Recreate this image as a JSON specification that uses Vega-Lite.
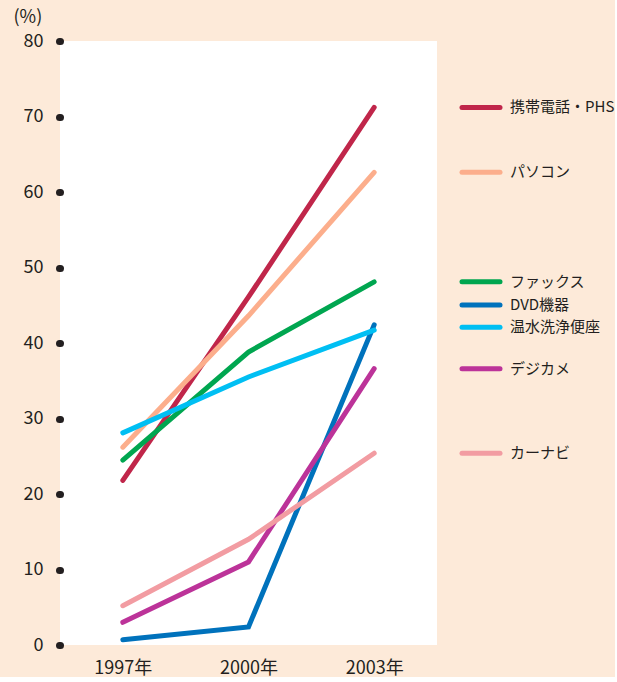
{
  "$schema": "https://vega.github.io/schema/vega-lite/v6.json",
  "background": "#fdead9",
  "padding": {"left": 13, "top": 8, "right": 0, "bottom": 0},
  "autosize": {"type": "pad"},
  "spacing": 0,
  "config": {"font": "Noto Sans CJK JP", "view": {"stroke": null}},
  "data": {"values": [
    {"item": "携帯電話・PHS", "year": "1997年", "value": 21.8},
    {"item": "携帯電話・PHS", "year": "2000年", "value": 46.1},
    {"item": "携帯電話・PHS", "year": "2003年", "value": 71.2},
    {"item": "パソコン", "year": "1997年", "value": 26.2},
    {"item": "パソコン", "year": "2000年", "value": 43.6},
    {"item": "パソコン", "year": "2003年", "value": 62.6},
    {"item": "ファックス", "year": "1997年", "value": 24.5},
    {"item": "ファックス", "year": "2000年", "value": 38.8},
    {"item": "ファックス", "year": "2003年", "value": 48.1},
    {"item": "DVD機器", "year": "1997年", "value": 0.7},
    {"item": "DVD機器", "year": "2000年", "value": 2.4},
    {"item": "DVD機器", "year": "2003年", "value": 42.4},
    {"item": "温水洗浄便座", "year": "1997年", "value": 28.1},
    {"item": "温水洗浄便座", "year": "2000年", "value": 35.5},
    {"item": "温水洗浄便座", "year": "2003年", "value": 41.7},
    {"item": "デジカメ", "year": "1997年", "value": 3.0},
    {"item": "デジカメ", "year": "2000年", "value": 11.0},
    {"item": "デジカメ", "year": "2003年", "value": 36.6},
    {"item": "カーナビ", "year": "1997年", "value": 5.2},
    {"item": "カーナビ", "year": "2000年", "value": 14.0},
    {"item": "カーナビ", "year": "2003年", "value": 25.4}
  ]},
  "hconcat": [
    {
      "width": 377,
      "height": 604,
      "view": {"fill": "white", "stroke": null},
      "mark": {"type": "line", "strokeWidth": 5, "strokeCap": "round", "strokeJoin": "miter"},
      "encoding": {
        "x": {
          "field": "year", "type": "ordinal",
          "scale": {"type": "point", "padding": 0.5},
          "axis": {"title": null, "labelAngle": 0, "domain": false, "ticks": false, "labelPadding": 14, "labelFontSize": 18, "labelColor": "#231f20"}
        },
        "y": {
          "field": "value", "type": "quantitative",
          "scale": {"domain": [0, 80], "nice": false},
          "axis": {
            "title": "(%)", "titleAngle": 0, "titleAlign": "left", "titleBaseline": "top",
            "titleX": -47, "titleY": -33, "titleFontSize": 18, "titleFontWeight": "normal", "titleColor": "#231f20",
            "values": [0, 10, 20, 30, 40, 50, 60, 70, 80],
            "grid": false, "domain": false,
            "tickSize": 1, "tickWidth": 7, "tickCap": "round", "tickColor": "#231f20",
            "labelPadding": 16, "labelFontSize": 18, "labelColor": "#231f20"
          }
        },
        "color": {
          "field": "item", "type": "nominal",
          "scale": {
            "domain": ["携帯電話・PHS", "パソコン", "ファックス", "DVD機器", "温水洗浄便座", "デジカメ", "カーナビ"],
            "range": ["#c0264a", "#fcae8c", "#00a650", "#0072bc", "#00bff3", "#bc3399", "#f29ca2"]
          },
          "legend": null
        }
      }
    },
    {
      "width": 170,
      "height": 604,
      "view": {"stroke": null},
      "transform": [{"filter": "datum.year === '2003年'"}],
      "encoding": {
        "y": {"field": "value", "type": "quantitative", "scale": {"domain": [0, 80], "nice": false}, "axis": null},
        "color": {
          "field": "item", "type": "nominal",
          "scale": {
            "domain": ["携帯電話・PHS", "パソコン", "ファックス", "DVD機器", "温水洗浄便座", "デジカメ", "カーナビ"],
            "range": ["#c0264a", "#fcae8c", "#00a650", "#0072bc", "#00bff3", "#bc3399", "#f29ca2"]
          },
          "legend": null
        }
      },
      "layer": [
        {
          "transform": [{"filter": "datum.item !== 'DVD機器' && datum.item !== '温水洗浄便座'"}],
          "mark": {"type": "rule", "strokeWidth": 5, "strokeCap": "round"},
          "encoding": {
            "x": {"datum": 25, "type": "quantitative", "scale": {"domain": [0, 170], "nice": false, "zero": false}, "axis": null},
            "x2": {"datum": 63}
          }
        },
        {
          "transform": [{"filter": "datum.item !== 'DVD機器' && datum.item !== '温水洗浄便座'"}],
          "mark": {"type": "text", "align": "left", "baseline": "middle", "fontSize": 15},
          "encoding": {
            "x": {"datum": 73, "type": "quantitative", "scale": {"domain": [0, 170], "nice": false, "zero": false}, "axis": null},
            "text": {"field": "item"},
            "color": {"value": "#231f20"}
          }
        },
        {
          "transform": [{"filter": "datum.item === 'DVD機器'"}],
          "mark": {"type": "rule", "strokeWidth": 5, "strokeCap": "round", "yOffset": -20},
          "encoding": {
            "x": {"datum": 25, "type": "quantitative", "scale": {"domain": [0, 170], "nice": false, "zero": false}, "axis": null},
            "x2": {"datum": 63}
          }
        },
        {
          "transform": [{"filter": "datum.item === 'DVD機器'"}],
          "mark": {"type": "text", "align": "left", "baseline": "middle", "fontSize": 15, "yOffset": -20},
          "encoding": {
            "x": {"datum": 73, "type": "quantitative", "scale": {"domain": [0, 170], "nice": false, "zero": false}, "axis": null},
            "text": {"field": "item"},
            "color": {"value": "#231f20"}
          }
        },
        {
          "transform": [{"filter": "datum.item === '温水洗浄便座'"}],
          "mark": {"type": "rule", "strokeWidth": 5, "strokeCap": "round", "yOffset": -3},
          "encoding": {
            "x": {"datum": 25, "type": "quantitative", "scale": {"domain": [0, 170], "nice": false, "zero": false}, "axis": null},
            "x2": {"datum": 63}
          }
        },
        {
          "transform": [{"filter": "datum.item === '温水洗浄便座'"}],
          "mark": {"type": "text", "align": "left", "baseline": "middle", "fontSize": 15, "yOffset": -3},
          "encoding": {
            "x": {"datum": 73, "type": "quantitative", "scale": {"domain": [0, 170], "nice": false, "zero": false}, "axis": null},
            "text": {"field": "item"},
            "color": {"value": "#231f20"}
          }
        }
      ]
    }
  ]
}
